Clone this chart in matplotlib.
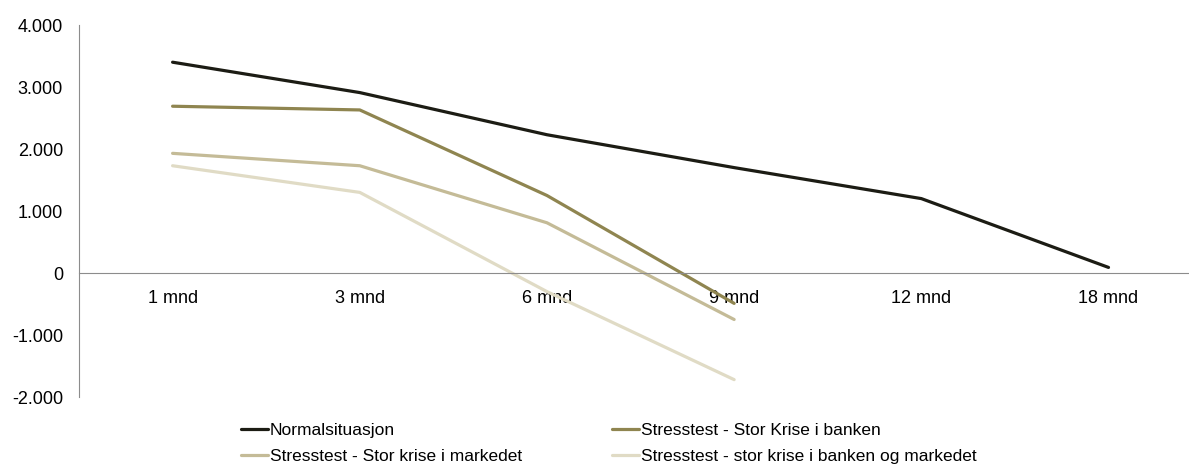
import matplotlib
matplotlib.use("Agg")
import matplotlib.pyplot as plt

plt.rcParams["font.family"] = ["Liberation Sans", "DejaVu Sans"]

# ------------------------------------------------------------------ data
categories = ["1 mnd", "3 mnd", "6 mnd", "9 mnd", "12 mnd", "18 mnd"]

normal = [3400, 2910, 2230, 1700, 1200, 90]
krise_banken = [2690, 2630, 1250, -490]
krise_markedet = [1930, 1730, 810, -750]
krise_begge = [1730, 1300, -300, -1720]

series_labels = [
    "Normalsituasjon",
    "Stresstest - Stor Krise i banken",
    "Stresstest - Stor krise i markedet",
    "Stresstest - stor krise i banken og markedet",
]
yticks = [-2000, -1000, 0, 1000, 2000, 3000, 4000]

# ------------------------------------------------------------------ plot
fig = plt.figure(figsize=(11.89, 4.65), dpi=100)
ax = fig.add_axes([79 / 1189, 1 - 397 / 465, 1 - 79 / 1189, (397 - 25) / 465])

colors = ["#1c1c14", "#8f8550", "#c4bb97", "#e0dbc5"]
data = [normal, krise_banken, krise_markedet, krise_begge]
handles = []
for vals, col, lab in zip(data, colors, series_labels):
    (h,) = ax.plot(range(len(vals)), vals, color=col, linewidth=2.3,
                   solid_capstyle="round", label=lab)
    handles.append(h)

ax.set_ylim(-2000, 4000)
ax.set_xlim(-0.5, 5.43)
ax.set_yticks(yticks)
ax.set_yticklabels([f"{v:,}".replace(",", ".") for v in yticks])
ax.set_xticks(range(len(categories)))
ax.set_xticklabels(categories)

for s in ["top", "right"]:
    ax.spines[s].set_visible(False)
ax.spines["bottom"].set_position(("data", 0))
ax.spines["left"].set_color("#8c8c8c")
ax.spines["bottom"].set_color("#8c8c8c")
ax.tick_params(axis="both", length=0, labelsize=13, colors="black")
ax.tick_params(axis="x", pad=12)
ax.tick_params(axis="y", pad=11.5)

# order so the two columns read row by row
order = [0, 2, 1, 3]
fig.legend([handles[i] for i in order], [series_labels[i] for i in order],
           loc="upper left", bbox_to_anchor=(241 / 1189, 1 - 423 / 465), ncol=2,
           frameon=False, fontsize=12.5, handlelength=1.56, handletextpad=0.1,
           columnspacing=5.2, labelspacing=0.64, borderpad=0, borderaxespad=0)

fig.savefig("out.png", dpi=100)
